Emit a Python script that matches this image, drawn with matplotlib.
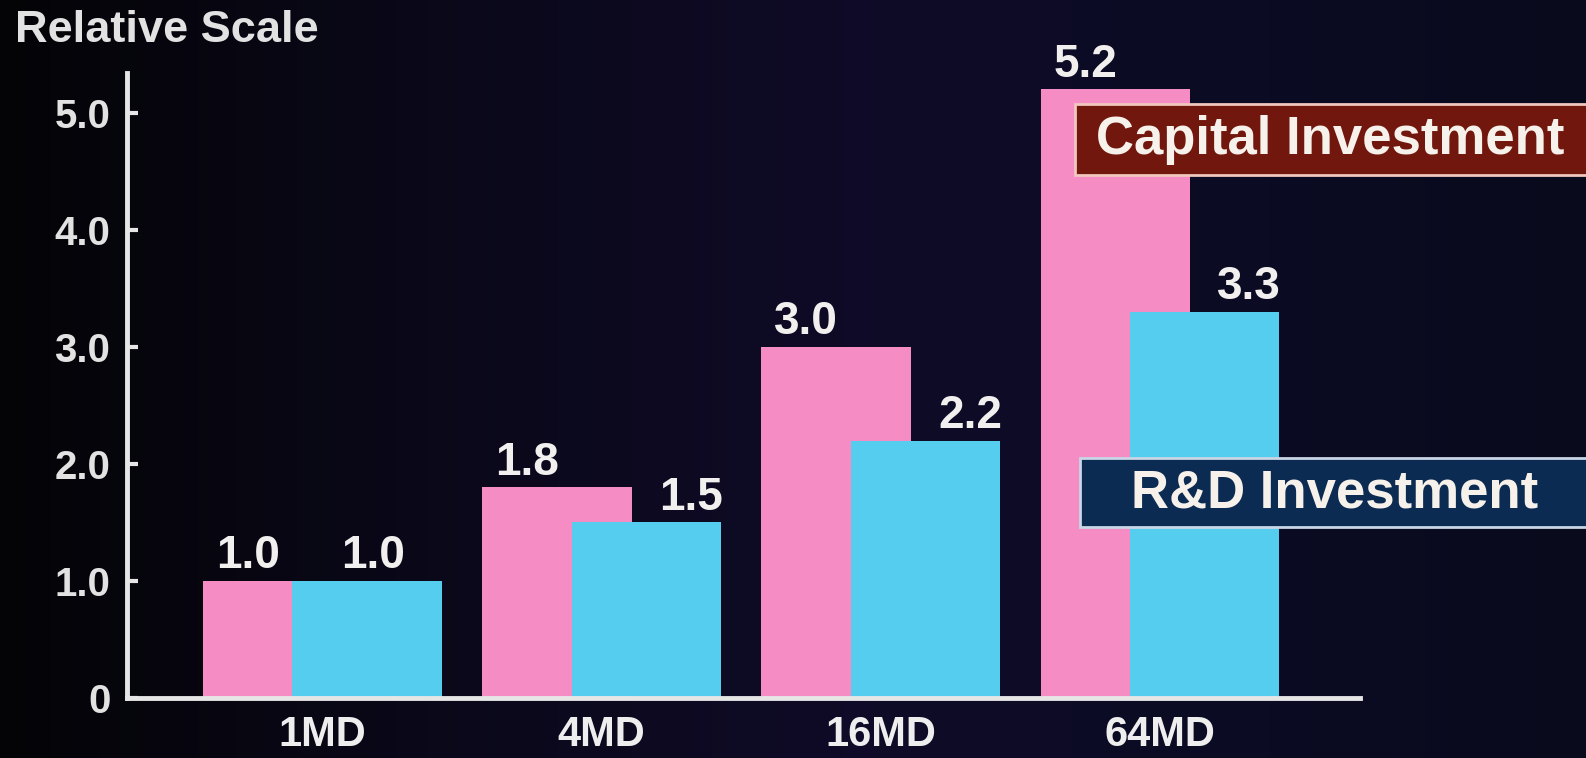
import numpy as np
import matplotlib
matplotlib.use("Agg")
import matplotlib.pyplot as plt
from matplotlib.patches import Rectangle
from matplotlib.colors import LinearSegmentedColormap

plt.rcParams['font.family'] = ['Liberation Sans', 'DejaVu Sans']
plt.rcParams['font.weight'] = 'bold'

# Data
categories = ['1MD', '4MD', '16MD', '64MD']
capital_investment = [1.0, 1.8, 3.0, 5.2]
rd_investment = [1.0, 1.5, 2.2, 3.3]
y_ticks = [0, 1, 2, 3, 4, 5]
y_tick_labels = ['0', '1.0', '2.0', '3.0', '4.0', '5.0']
series_names = ['Capital Investment', 'R&D Investment']

W, H = 1586, 758
fig = plt.figure(figsize=(W / 100, H / 100), dpi=100)

# Dark slide background with a soft horizontal gradient
bg = fig.add_axes([0, 0, 1, 1], zorder=-10)
bg_cmap = LinearSegmentedColormap.from_list(
    'slide', [(0.0, '#040407'), (0.25, '#0a0818'), (0.55, '#0f0b28'),
              (0.8, '#0b0c23'), (1.0, '#090a1c')])
grad = np.tile(np.linspace(0, 1, 256), (32, 1))
bg.imshow(grad, aspect='auto', cmap=bg_cmap, extent=[0, 1, 0, 1])
bg.set_axis_off()

ax = fig.add_axes([127 / W, 1 - 698 / H, (1360 - 127) / W, (698 - 73) / H])
ax.patch.set_alpha(0)

pink = '#f58cc4'
cyan = '#55cdee'
width = 0.535
offset = 0.16
x = np.arange(len(categories))

ax.bar(x - offset, capital_investment, width, color=pink, zorder=2)
ax.bar(x + offset, rd_investment, width, color=cyan, zorder=3)

label_kw = dict(textcoords='offset points', ha='center', va='baseline',
                fontsize=33, fontweight='bold', color='#f2f0ee', zorder=5)
for i, (c, r) in enumerate(zip(capital_investment, rd_investment)):
    # Capital value sits over the exposed left part of the pink bar
    ax.annotate(f'{c:.1f}', (i - width / 2, c), xytext=(0, 9), **label_kw)
    # R&D value over the cyan bar, shifted right when the pink bar is taller
    rx = i + offset + (0.16 if r < c else 0.02)
    ax.annotate(f'{r:.1f}', (rx, r), xytext=(0, 9), **label_kw)

ax.set_xlim(-0.70, 3.717)
ax.set_ylim(0, 5.34)

ax.set_xticks(x)
ax.set_xticklabels(categories, fontsize=30, fontweight='bold', color='#eeeeee')
ax.tick_params(axis='x', length=0, pad=12)

ax.set_yticks(y_ticks)
ax.set_yticklabels(y_tick_labels, fontsize=29, fontweight='bold', color='#e2e2e2')
ax.tick_params(axis='y', direction='in', length=8, width=3, color='#e6e6e6', pad=12)

for side in ['top', 'right']:
    ax.spines[side].set_visible(False)
for side in ['left', 'bottom']:
    ax.spines[side].set_color('#e6e6e6')
    ax.spines[side].set_linewidth(3.5)
    ax.spines[side].set_zorder(6)

fig.text(15 / W, 1 - 30 / H, 'Relative Scale', fontsize=32.5, fontweight='bold',
         color='#e2e2e2', ha='left', va='center')

# Series name boxes
boxes = [
    (series_names[0], 1075, 104, 175, '#72170e', '#f0c8c0', 1330, 140),
    (series_names[1], 1080, 458, 527, '#0c2b52', '#c8d6e6', 1335, 493),
]
for name, x0, y0, y1, face, edge, tx, ty in boxes:
    fig.patches.append(Rectangle((x0 / W, 1 - y1 / H), (W + 20 - x0) / W, (y1 - y0) / H,
                                 transform=fig.transFigure, facecolor=face,
                                 edgecolor=edge, linewidth=2, zorder=20))
    fig.text(tx / W, 1 - ty / H, name, fontsize=38, fontweight='bold',
             color='#f6f1ea', ha='center', va='center', zorder=21)

fig.savefig('out.png', dpi=100, facecolor='#07060f')
